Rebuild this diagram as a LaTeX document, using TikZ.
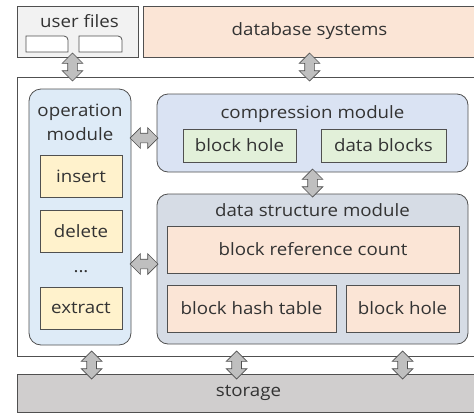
\documentclass[tikz,border=0pt]{standalone}
\usepackage{fontspec}
\setmainfont[FakeStretch=1.1]{Open Sans}
\usetikzlibrary{shapes.arrows,calc}

\definecolor{lineclr}{HTML}{505050}
\definecolor{userfill}{HTML}{F2F2F2}
\definecolor{peachfill}{HTML}{FBE5D6}
\definecolor{opfill}{HTML}{DEEBF7}
\definecolor{compfill}{HTML}{DAE3F3}
\definecolor{dsfill}{HTML}{D6DCE5}
\definecolor{opboxfill}{HTML}{FFF2CC}
\definecolor{greenfill}{HTML}{E2F0D9}
\definecolor{storefill}{HTML}{D0CECE}
\definecolor{arrowfill}{HTML}{BFBFBF}

\tikzset{
  box/.style={draw=lineclr, line width=0.8pt, inner sep=0pt},
  module/.style={box, rounded corners=12pt},
  opbox/.style={box, fill=opboxfill, minimum width=82pt, minimum height=42pt},
  peachbox/.style={box, fill=peachfill, minimum height=47pt},
  greenbox/.style={box, fill=greenfill, minimum height=33pt},
  dblarrow/.style={double arrow, draw=lineclr, fill=arrowfill, line width=0.7pt,
    minimum height=28pt, inner sep=4.5pt, double arrow head extend=5.5pt},
}

\begin{document}
\begin{tikzpicture}[x=1pt, y=-1pt, font=\fontsize{17}{24}\selectfont, text=black!80]
  \useasboundingbox (0,0) rectangle (474,413);

  % top row
  \node[box, fill=userfill, minimum width=121pt, minimum height=51pt] (userfiles) at (77.5,31.5) {};
  \node (userfilestext) at (79.5,21) {user files};
  \draw[box, fill=white] (26,52) -- (26,36) [rounded corners=4pt] -- (68,36) [sharp corners] -- (68,52) -- cycle;
  \draw[box, fill=white] (79,52) -- (79,36) [rounded corners=4pt] -- (122,36) [sharp corners] -- (122,52) -- cycle;
  \node[box, fill=peachfill, minimum width=333pt, minimum height=51pt] (database) at (309.5,31.5) {database systems};

  % main frame
  \node[box, minimum width=459pt, minimum height=279pt] (frame) at (246.5,216.5) {};

  % operation module
  \node[module, fill=opfill, minimum width=102pt, minimum height=256pt] (opmodule) at (80,217) {};
  \node[align=center, inner sep=0pt] (optitle) at (80,122.5) {operation\\module};
  \node[opbox] (insert) at (81,176.5) {insert};
  \node[opbox] (delete) at (81,231) {delete};
  \node (dots) at (81,272) {...};
  \node[opbox] (extract) at (81,308) {extract};

  % compression module
  \node[module, rounded corners=11pt, fill=compfill, minimum width=311pt, minimum height=78pt] (compmodule) at (312.5,133) {};
  \node (comptitle) at (312.5,114) {compression module};
  \node[greenbox, minimum width=113pt] (holeone) at (239.5,145.5) {block hole};
  \node[greenbox, minimum width=125pt] (datablocks) at (383.5,145.5) {data blocks};

  % data structure module
  \node[module, rounded corners=11pt, fill=dsfill, minimum width=311pt, minimum height=150pt] (dsmodule) at (312.5,269) {};
  \node (dstitle) at (312.5,210) {data structure module};
  \node[peachbox, minimum width=292pt] (refcount) at (313,249.5) {block reference count};
  \node[peachbox, minimum width=169pt] (hashtable) at (251.5,308.5) {block hash table};
  \node[peachbox, minimum width=113pt] (holetwo) at (402.5,308.5) {block hole};

  % storage
  \node[box, fill=storefill, minimum width=463pt, minimum height=38pt] (storage) at (248.5,393) {storage};

  % arrows
  \node[dblarrow, rotate=90] (ua) at ($(userfiles.south)!.5!(userfiles.south |- frame.north)+(-5,0)$) {};
  \node[dblarrow, rotate=90] (da) at ($(database.south)!.5!(database.south |- frame.north)$) {};
  \node[dblarrow, rotate=90] (ca) at ($(compmodule.south)!.5!(dsmodule.north)$) {};
  \node[dblarrow] (oca) at ($(opmodule.east |- compmodule.west)!.5!(compmodule.west)+(0,5)$) {};
  \node[dblarrow] (oda) at ($(opmodule.east |- dsmodule.west)!.5!(dsmodule.west)+(0,-5)$) {};
  \node[dblarrow, rotate=90] (sa1) at ($(frame.south west)!.5!(storage.north west)+(75,0)$) {};
  \node[dblarrow, rotate=90] (sa2) at ($(frame.south west)!.5!(storage.north west)+(220,0)$) {};
  \node[dblarrow, rotate=90] (sa3) at ($(frame.south west)!.5!(storage.north west)+(386,0)$) {};
\end{tikzpicture}
\end{document}
